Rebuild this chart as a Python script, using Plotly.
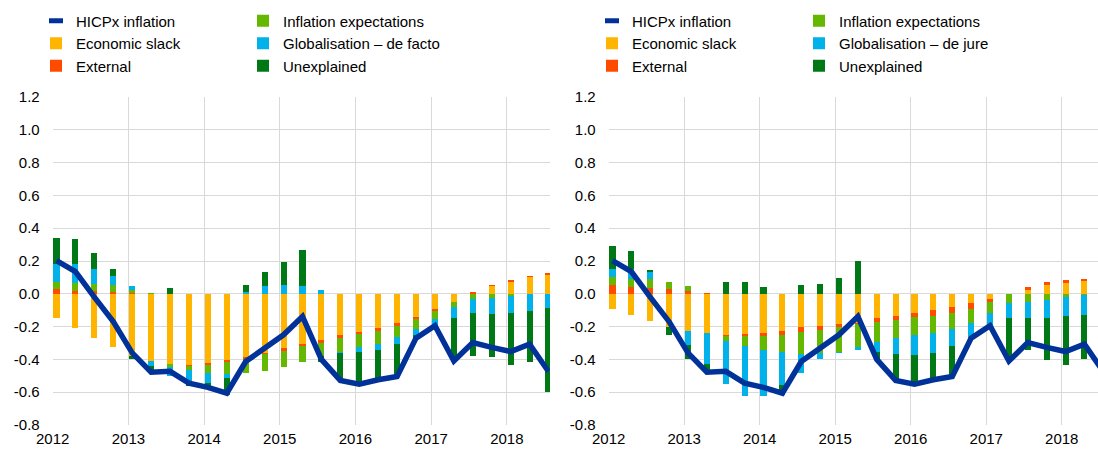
import plotly.graph_objects as go

# ---------------- data ----------------
quarters = ["2012Q1", "2012Q2", "2012Q3", "2012Q4",
            "2013Q1", "2013Q2", "2013Q3", "2013Q4",
            "2014Q1", "2014Q2", "2014Q3", "2014Q4",
            "2015Q1", "2015Q2", "2015Q3", "2015Q4",
            "2016Q1", "2016Q2", "2016Q3", "2016Q4",
            "2017Q1", "2017Q2", "2017Q3", "2017Q4",
            "2018Q1", "2018Q2", "2018Q3"]

hicpx = [0.203, 0.136, -0.02, -0.17, -0.36, -0.478, -0.473, -0.545, -0.571, -0.606,
         -0.413, -0.327, -0.25, -0.138, -0.40, -0.528, -0.551, -0.524, -0.504, -0.27,
         -0.195, -0.41, -0.297, -0.327, -0.352, -0.307, -0.474]

# left panel: globalisation de facto
slack_f = [-0.148, -0.209, -0.270, -0.327, -0.378, -0.409, -0.429, -0.433, -0.419, -0.402,
           -0.386, -0.358, -0.333, -0.307, -0.283, -0.254, -0.234, -0.207, -0.179, -0.140,
           -0.093, -0.047, 0.0, 0.045, 0.075, 0.100, 0.116]
external_f = [0.028, 0.020, 0.018, 0.014, 0.005, 0.0, 0.0, -0.006, -0.014, -0.013,
              -0.012, -0.012, -0.013, -0.014, -0.014, -0.014, -0.012, -0.019, -0.016, -0.014,
              -0.011, 0.0, 0.012, 0.010, 0.008, 0.008, 0.010]
expect_f = [0.041, 0.045, 0.043, 0.037, 0.020, 0.004, -0.020, -0.028, -0.051, -0.073,
            -0.086, -0.100, -0.102, -0.096, -0.080, -0.086, -0.081, -0.079, -0.069, -0.059,
            -0.050, -0.036, -0.033, -0.026, -0.016, 0.0, 0.0]
glob_f = [0.112, 0.118, 0.091, 0.055, 0.020, -0.030, -0.055, -0.068, -0.057, -0.026,
          0.014, 0.045, 0.055, 0.049, 0.022, -0.006, -0.025, -0.036, -0.041, -0.041,
          -0.041, -0.065, -0.081, -0.096, -0.098, -0.102, -0.087]
unexpl_f = [0.158, 0.152, 0.096, 0.046, -0.020, -0.040, 0.033, -0.026, -0.024, -0.102,
            0.041, 0.087, 0.136, 0.219, -0.040, -0.154, -0.193, -0.173, -0.199, -0.016,
            0.0, -0.244, -0.268, -0.264, -0.323, -0.311, -0.513]

# right panel: globalisation de jure
slack_j = [-0.093, -0.132, -0.165, -0.200, -0.224, -0.242, -0.250, -0.244, -0.236, -0.224,
           -0.205, -0.195, -0.182, -0.175, -0.148, -0.134, -0.118, -0.098, -0.081, -0.057,
           -0.030, 0.0, 0.024, 0.055, 0.065, 0.081, 0.090]
external_j = [0.051, 0.041, 0.035, 0.030, 0.016, 0.006, -0.006, -0.016, -0.024, -0.026,
              -0.029, -0.025, -0.021, -0.012, -0.023, -0.025, -0.026, -0.036, -0.037, -0.036,
              -0.021, 0.0, 0.015, 0.016, 0.018, 0.010, 0.010]
expect_j = [0.049, 0.048, 0.054, 0.043, 0.029, 0.0, -0.029, -0.061, -0.081, -0.106,
            -0.132, -0.142, -0.149, -0.138, -0.120, -0.109, -0.108, -0.108, -0.097, -0.082,
            -0.067, -0.057, -0.047, -0.037, -0.022, -0.010, -0.010]
glob_j = [0.050, 0.061, 0.041, 0.0, -0.087, -0.185, -0.264, -0.301, -0.281, -0.203,
          -0.114, -0.036, -0.006, -0.016, -0.061, -0.102, -0.122, -0.120, -0.106, -0.095,
          -0.077, -0.091, -0.101, -0.111, -0.116, -0.118, -0.110]
unexpl_j = [0.139, 0.108, 0.016, -0.050, -0.087, -0.047, 0.075, 0.071, 0.041, -0.057,
            0.051, 0.061, 0.098, 0.197, -0.050, -0.154, -0.167, -0.158, -0.183, 0.0,
            0.0, -0.244, -0.193, -0.254, -0.299, -0.270, -0.400]

year_ticks = [2012, 2013, 2014, 2015, 2016, 2017, 2018]
year_labels = ["2012", "2013", "2014", "2015", "2016", "2017", "2018"]
y_ticks = [-0.8, -0.6, -0.4, -0.2, 0.0, 0.2, 0.4, 0.6, 0.8, 1.0, 1.2]
y_labels = ["-0.8", "-0.6", "-0.4", "-0.2", "0.0", "0.2", "0.4", "0.6", "0.8", "1.0", "1.2"]

# ---------------- styling ----------------
C_LINE = "#003299"
C_SLACK = "#FFB400"
C_EXT = "#FF4B00"
C_EXP = "#65B800"
C_GLOB = "#00B1EA"
C_UNEX = "#007816"
FONT = "Arial, Liberation Sans, sans-serif"
W, H = 1098, 450

# quarter -> position on a numeric time axis (bars slightly after quarter start)
xpos = [int(q[:4]) + (int(q[5]) - 1) * 0.25 + 0.05 for q in quarters]

fig = go.Figure()

panels = [
    ("x", "y", "legend", "legend2",
     [("Economic slack", slack_f, C_SLACK), ("External", external_f, C_EXT),
      ("Inflation expectations", expect_f, C_EXP),
      ("Globalisation \u2013 de facto", glob_f, C_GLOB), ("Unexplained", unexpl_f, C_UNEX)]),
    ("x2", "y2", "legend3", "legend4",
     [("Economic slack", slack_j, C_SLACK), ("External", external_j, C_EXT),
      ("Inflation expectations", expect_j, C_EXP),
      ("Globalisation \u2013 de jure", glob_j, C_GLOB), ("Unexplained", unexpl_j, C_UNEX)]),
]

for pi, (xa, ya, lg1, lg2, comps) in enumerate(panels):
    # legend entry for the line (short thick dash like the original)
    fig.add_trace(go.Scatter(
        x=[None], y=[None], mode="markers", name="HICPx inflation",
        marker=dict(symbol="line-ew", size=10, color=C_LINE, line=dict(width=5, color=C_LINE)),
        xaxis=xa, yaxis=ya, legend=lg1, legendgroup=f"p{pi}_hicp", showlegend=True))
    for ci, (name, vals, col) in enumerate(comps):
        fig.add_trace(go.Bar(
            x=xpos, y=vals, name=name, width=0.08,
            marker=dict(color=col, line=dict(width=0)),
            xaxis=xa, yaxis=ya,
            legend=lg1 if ci < 2 else lg2, legendgroup=f"p{pi}_{ci}"))
    fig.add_trace(go.Scatter(
        x=xpos, y=hicpx, mode="lines", name="HICPx inflation",
        line=dict(color=C_LINE, width=5.5), xaxis=xa, yaxis=ya,
        showlegend=False, cliponaxis=True))

l_left, l_right = 52.7, 550.0
r_left, r_right = 608.7, 1098.0
y_top, y_bot = 97.0, 425.0

axis_common = dict(showgrid=True, gridcolor="#d9d9d9", gridwidth=1, zeroline=False,
                   showline=False, ticks="", automargin=False,
                   tickfont=dict(family=FONT, size=15, color="#000000"))

fig.update_layout(
    width=W, height=H,
    margin=dict(l=0, r=0, t=0, b=0, autoexpand=False),
    paper_bgcolor="white", plot_bgcolor="white",
    barmode="relative", bargap=0,
    font=dict(family=FONT, size=15, color="#000000"),
    showlegend=True,
    xaxis=dict(domain=[l_left / W, l_right / W], range=[2012, 2018.57],
               tickvals=year_ticks, ticktext=year_labels, anchor="y",
               ticklabelstandoff=3, **axis_common),
    yaxis=dict(domain=[(H - y_bot) / H, (H - y_top) / H], range=[-0.8, 1.2],
               tickvals=y_ticks, ticktext=y_labels, anchor="x",
               ticklabelstandoff=12, **axis_common),
    xaxis2=dict(domain=[r_left / W, r_right / W], range=[2012, 2018.48],
                tickvals=year_ticks, ticktext=year_labels, anchor="y2",
                ticklabelstandoff=3, **axis_common),
    yaxis2=dict(domain=[(H - y_bot) / H, (H - y_top) / H], range=[-0.8, 1.2],
                tickvals=y_ticks, ticktext=y_labels, anchor="x2",
                ticklabelstandoff=12, **axis_common),
)

leg_common = dict(orientation="v", xanchor="left", yanchor="top", traceorder="grouped",
                  tracegroupgap=0, bgcolor="rgba(0,0,0,0)", borderwidth=0,
                  font=dict(family=FONT, size=15, color="#000000"), itemclick=False,
                  itemdoubleclick=False)
legend_x = [36.0, 243.0, 36.0 + 556, 243.0 + 556]
legend_top = 4.5
fig.update_layout(
    legend=dict(x=legend_x[0] / W, y=1 - legend_top / H, **leg_common),
    legend2=dict(x=legend_x[1] / W, y=1 - legend_top / H, **leg_common),
    legend3=dict(x=legend_x[2] / W, y=1 - legend_top / H, **leg_common),
    legend4=dict(x=legend_x[3] / W, y=1 - legend_top / H, **leg_common),
)

# remove the browser's default 8px page margin so the figure fills the window
fig.write_html("out.html",
               config={"displayModeBar": False, "staticPlot": True},
               post_script="document.body.style.margin='0px';document.body.style.overflow='hidden';")
